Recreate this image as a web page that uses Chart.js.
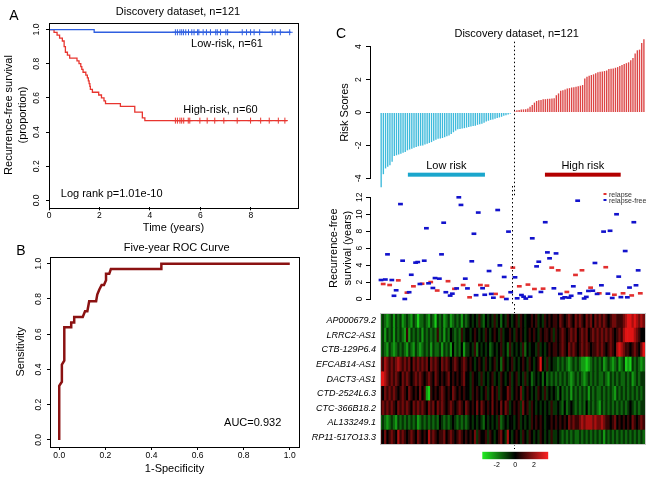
<!DOCTYPE html>
<html lang="en">
<head>
<meta charset="UTF-8">
<title>Risk signature figure</title>
<script src="https://cdn.jsdelivr.net/npm/chart.js"></script>
<style>
  body { margin: 0; background: #fff; }
  #fig { position: relative; width: 648px; height: 480px; overflow: hidden; font-family: 'Liberation Sans', Arial, sans-serif; }
  #fig canvas { position: absolute; }
  .lbl { position: absolute; transform: translate(-50%, -50%); white-space: nowrap; line-height: 1; font-size: 11px; color: #000; }
</style>
</head>
<body>
<div id="fig">
  <canvas id="km" width="320" height="240" style="left:0;top:0"></canvas>
  <canvas id="roc" width="320" height="240" style="left:0;top:240px"></canvas>
  <canvas id="risk" width="328" height="160" style="left:320px;top:36px"></canvas>
  <canvas id="surv" width="328" height="120" style="left:320px;top:186px"></canvas>
  <canvas id="heat" width="348" height="150" style="left:300px;top:304px"></canvas>
  <canvas id="key" width="110" height="26" style="left:460px;top:446px"></canvas>
</div>
<script>
// ---- A: Kaplan-Meier, discovery set ----
const kmLowTime = [0, 1.79, 9.58];
const kmLowSurv = [1, 0.984, 0.984];
const kmHighTime = [0, 0.2, 0.32, 0.42, 0.53, 0.6, 0.65, 0.73, 0.82, 1.11, 1.19, 1.26, 1.3, 1.35, 1.46,
  1.52, 1.56, 1.59, 1.62, 1.64, 1.72, 1.97, 2.08, 2.18, 2.24, 2.83, 3.4, 3.7, 3.8, 9.44];
const kmHighSurv = [1, 0.983, 0.967, 0.95, 0.933, 0.9, 0.867, 0.85, 0.833, 0.817, 0.8, 0.783, 0.767, 0.75, 0.733,
  0.717, 0.7, 0.683, 0.667, 0.65, 0.633, 0.617, 0.6, 0.583, 0.567, 0.55, 0.517, 0.483, 0.467, 0.467];
const censorLow = [5.01, 5.09, 5.19, 5.26, 5.33, 5.42, 5.53, 5.66, 5.75, 5.89, 5.94, 6.11, 6.24, 6.4,
  6.61, 6.67, 6.8, 7.01, 7.08, 7.66, 7.83, 7.99, 8.13, 8.35, 8.85, 8.96, 9.17, 9.54];
const censorHigh = [5.01, 5.09, 5.19, 5.26, 5.34, 5.52, 5.58, 5.98, 6.27, 6.57, 6.93, 7.46, 7.99, 8.39, 8.73, 9.09, 9.35];

// ---- B: five-year ROC ----
const rocFpr = [0, 0, 0.0115, 0.0115, 0.022, 0.022, 0.052, 0.052, 0.065, 0.065, 0.102, 0.112, 0.122, 0.13,
  0.16, 0.165, 0.174, 0.184, 0.194, 0.203, 0.203, 0.217, 0.224, 0.443, 0.443, 1.0];
const rocTpr = [0, 0.307, 0.33, 0.427, 0.45, 0.64, 0.64, 0.667, 0.667, 0.698, 0.698, 0.73, 0.73, 0.787,
  0.787, 0.825, 0.854, 0.88, 0.88, 0.907, 0.943, 0.943, 0.97, 0.97, 1.0, 1.0];

// ---- C: patients ranked by risk score ----
const riskScores = [
  -4.55, -3.75, -3.4, -3.3, -3.2, -3.0, -2.65, -2.6, -2.55, -2.5,
  -2.45, -2.4, -2.3, -2.25, -2.2, -2.15, -2.1, -2.05, -2.02, -2.0,
  -1.95, -1.9, -1.85, -1.8, -1.72, -1.65, -1.6, -1.58, -1.55, -1.5,
  -1.45, -1.4, -1.3, -1.2, -1.1, -1.02, -1.0, -0.97, -0.95, -0.92,
  -0.88, -0.85, -0.82, -0.8, -0.75, -0.72, -0.68, -0.62, -0.55, -0.5,
  -0.45, -0.42, -0.38, -0.34, -0.3, -0.26, -0.2, -0.16, -0.12, -0.07,
  -0.03,
  0.08, 0.14, 0.15, 0.18, 0.19, 0.2, 0.25, 0.35, 0.45, 0.6,
  0.7, 0.75, 0.76, 0.8, 0.81, 0.83, 0.83, 0.85, 0.86, 1.05,
  1.16, 1.32, 1.36, 1.4, 1.46, 1.48, 1.52, 1.54, 1.56, 1.6,
  1.63, 1.67, 2.07, 2.17, 2.24, 2.28, 2.32, 2.38, 2.44, 2.48,
  2.5, 2.52, 2.55, 2.64, 2.66, 2.68, 2.72, 2.76, 2.83, 2.89,
  2.95, 3.0, 3.05, 3.17, 3.31, 3.58, 3.78, 3.82, 4.23, 4.45];
const survYears = [
  2.24, 1.77, 2.3, 5.27, 1.65, 2.24, 0.38, 1.03, 2.2, 11.2,
  4.52, 0.0, 0.75, 0.8, 2.86, 1.5, 4.29, 4.36, 1.77, 1.8,
  4.52, 8.35, 1.85, 2.0, 1.3, 2.47, 1.0, 2.4, 5.27, 9.0,
  0.8, 2.1, 0.4, 0.63, 1.2, 1.25, 12.0, 11.1, 1.65, 2.4,
  1.25, 0.2, 4.45, 7.7, 0.45, 10.2, 1.65, 1.27, 0.5, 1.58,
  3.3, 0.6, 0.15, 0.6, 10.5, 3.97, 0.25, 2.6, 0.0, 7.95,
  0.8,
  3.7, 2.56, 0.08, 1.5, 0.47, 0.27, 0.05, 1.7, 0.27, 7.16,
  1.18, 3.85, 4.4, 0.83, 1.22, 9.06, 5.5, 4.8, 3.7, 1.26,
  5.38, 3.39, 0.6, 0.08, 0.2, 0.83, 0.16, 0.38, 1.5, 2.84,
  11.6, 0.67, 3.39, 0.06, 0.25, 0.95, 1.34, 0.98, 4.25, 0.6,
  0.67, 1.62, 7.95, 3.75, 0.63, 8.05, 0.12, 0.5, 10.0, 2.64,
  0.22, 0.67, 5.66, 0.2, 1.35, 0.42, 9.06, 1.62, 3.38, 0.67];
const relapsed = [
  0, 1, 0, 0, 1, 0, 0, 0, 1, 0,
  0, 0, 1, 0, 0, 1, 0, 0, 0, 1,
  0, 0, 0, 1, 0, 0, 1, 0, 0, 0,
  0, 1, 0, 0, 1, 0, 0, 0, 1, 0,
  0, 1, 0, 0, 0, 0, 1, 0, 0, 1,
  0, 0, 0, 1, 0, 0, 1, 0, 0, 0,
  0,
  1, 0, 0, 1, 0, 0, 0, 1, 0, 0,
  1, 0, 0, 0, 1, 0, 0, 0, 1, 0,
  0, 1, 0, 0, 0, 1, 0, 0, 0, 1,
  0, 0, 1, 0, 0, 0, 1, 0, 0, 0,
  1, 0, 0, 1, 0, 0, 0, 1, 0, 0,
  0, 1, 0, 0, 0, 1, 0, 0, 0, 1];
const genes = ['AP000679.2', 'LRRC2-AS1', 'CTB-129P6.4', 'EFCAB14-AS1', 'DACT3-AS1',
  'CTD-2524L6.3', 'CTC-366B18.2', 'AL133249.1', 'RP11-517O13.3'];
// expression per patient, digits 1..9 (5 = 0, 1 = strong green, 9 = strong red)
const heatRows = [
  '3432342434 2343243133 4324314342 3423434243 4545464354 5464535465 4564654556 5645465656 6576567657 6765767576 7676567766 6789989878 7',
  '3424342434 3262434342 4343436342 4354343645 5456545465 4565464556 5465654565 6546566564 6567656767 5676756767 6767676567 6899998765 5',
  '3432432343 4324324323 4342433424 3425343524 4546354545 3454564536 4545463545 5464545656 6567657676 5676765667 6765676589 8766567657 9',
  '7687676787 6767576767 6757676576 7656765676 5654565465 4564536545 6454565465 4569546454 4343432343 4322123434 3423432342 3412143432 3',
  '9987676765 7676567676 5676576565 6756565675 5465546454 5645465456 4564546453 4545353434 3434343234 3432343434 3343243434 3343423434 4',
  '6576767656 7657656575 6216565676 5657656565 5465654564 5756465576 4565745654 5465464545 4353434243 4343424343 3434343243 4343434343 4',
  '6767676576 7676576767 6576757676 5676567657 6565757656 5756575764 5656475646 5454545464 4543534543 4343534343 2434343434 3434543434 4',
  '3432343243 4343434234 3434343543 4345434343 4545454354 5454634545 5456454546 5656545565 6565657676 6787888787 7876656756 5656576567 6',
  '6575676586 7656765765 6586765667 5676567656 5657465564 6545675485 4565465465 4546545464 4543434343 3434343434 3424343434 3434343434 3'];
const keyTicks = [-2, 0, 2];

Chart.defaults.font.family = "'Liberation Sans', Arial, sans-serif";
Chart.defaults.color = '#000';
Chart.defaults.animation = false;
Chart.defaults.plugins.legend.display = false;
Chart.defaults.plugins.tooltip.enabled = false;

const BLUE = '#2f5fe0', RED = '#e8352f';
const xy = (xs, ys) => xs.map((x, i) => ({ x: x, y: ys[i] }));
const tickFont = { size: 8.5 };

// box round the plotting region (R bty="o")
const frame = {
  id: 'frame',
  afterDraw(chart, args, opts) {
    const a = chart.chartArea, ctx = chart.ctx;
    ctx.save();
    ctx.strokeStyle = opts.color || '#000';
    ctx.lineWidth = 1;
    ctx.strokeRect(Math.round(a.left) + 0.5, Math.round(a.top) + 0.5, Math.round(a.right - a.left), Math.round(a.bottom - a.top));
    ctx.restore();
  }
};
// y tick labels turned 90 degrees like R's default axis
const rotTicks = {
  id: 'rotTicks',
  afterDraw(chart, args, opts) {
    const s = chart.scales.y, ctx = chart.ctx;
    ctx.save();
    ctx.font = '8.5px "Liberation Sans", Arial, sans-serif';
    ctx.fillStyle = '#000';
    ctx.textAlign = 'center';
    ctx.textBaseline = 'middle';
    s.ticks.forEach(t => {
      ctx.save();
      ctx.translate(chart.chartArea.left - opts.offset, s.getPixelForValue(t.value));
      ctx.rotate(-Math.PI / 2);
      ctx.fillText(t.value.toFixed(opts.decimals), 0, 0);
      ctx.restore();
    });
    ctx.restore();
  }
};
// dotted split between low and high risk
const divider = {
  id: 'divider',
  draw(chart, opts) {
    const ctx = chart.ctx, x = Math.round(chart.scales.x.getPixelForValue(opts.at)) + 0.5;
    ctx.save();
    ctx.strokeStyle = '#000';
    ctx.lineWidth = 1;
    ctx.setLineDash([1.5, 2.5]);
    ctx.beginPath();
    ctx.moveTo(x, opts.y0);
    ctx.lineTo(x, opts.y1);
    ctx.stroke();
    ctx.restore();
  },
  beforeDatasetsDraw(chart, args, opts) { if (opts.under) this.draw(chart, opts); },
  afterDatasetsDraw(chart, args, opts) { if (!opts.under) this.draw(chart, opts); }
};
// "Low risk" / "High risk" captions with their bars
const riskGroups = {
  id: 'riskGroups',
  afterDatasetsDraw(chart, args, opts) {
    const ctx = chart.ctx, x = chart.scales.x, y = chart.scales.y;
    ctx.save();
    opts.groups.forEach(g => {
      const x0 = x.getPixelForValue(g.from), x1 = x.getPixelForValue(g.to);
      ctx.fillStyle = g.color;
      ctx.fillRect(x0, y.getPixelForValue(opts.barAt) - 2, x1 - x0, 4);
      ctx.fillStyle = '#000';
      ctx.font = '11px "Liberation Sans", Arial, sans-serif';
      ctx.textAlign = 'center';
      ctx.textBaseline = 'middle';
      ctx.fillText(g.text, (x0 + x1) / 2, y.getPixelForValue(opts.textAt));
    });
    ctx.restore();
  }
};

const rGrid = { drawOnChartArea: false, tickLength: 3, color: '#000' };
const patientAxis = (min, max) => ({ type: 'linear', min: min, max: max, offset: false, grid: { offset: false }, display: false });

// A
new Chart(document.getElementById('km'), {
  type: 'line',
  data: {
    datasets: [
      { data: xy(kmLowTime, kmLowSurv), borderColor: BLUE, borderWidth: 1.3, stepped: true, pointRadius: 0 },
      { data: xy(kmHighTime, kmHighSurv), borderColor: RED, borderWidth: 1.3, stepped: true, pointRadius: 0 },
      { type: 'scatter', data: censorLow.map(t => ({ x: t, y: kmLowSurv[kmLowSurv.length - 1] })),
        pointStyle: 'cross', pointRadius: 3, borderColor: BLUE, borderWidth: 1 },
      { type: 'scatter', data: censorHigh.map(t => ({ x: t, y: kmHighSurv[kmHighSurv.length - 1] })),
        pointStyle: 'cross', pointRadius: 3, borderColor: RED, borderWidth: 1 }
    ]
  },
  options: {
    responsive: false,
    layout: { padding: { left: 2, right: 22, top: 22.7, bottom: 5.7 } },
    scales: {
      x: {
        type: 'linear', min: 0, max: 9.87,
        border: { display: false }, grid: rGrid,
        ticks: { stepSize: 2, includeBounds: false, font: tickFont, padding: 0 },
        title: { display: true, text: 'Time (years)', font: { size: 11 }, padding: 0 },
        afterFit: s => { s.height = 27; }
      },
      y: {
        min: -0.04, max: 1.04,
        border: { display: false }, grid: rGrid,
        ticks: { stepSize: 0.2, includeBounds: false, display: false },
        title: { display: true, text: ['Recurrence-free survival', '(proportion)'], font: { size: 11, lineHeight: 1.3 }, padding: 0 },
        afterFit: s => { s.width = 47; }
      }
    },
    plugins: { rotTicks: { offset: 12.3, decimals: 1 } }
  },
  plugins: [frame, rotTicks]
});

// B
new Chart(document.getElementById('roc'), {
  type: 'line',
  data: {
    datasets: [{ data: xy(rocFpr, rocTpr), borderColor: '#8b1212', borderWidth: 2.5, pointRadius: 0 }]
  },
  options: {
    responsive: false,
    layout: { padding: { left: 14.4, right: 21, top: 16.7, bottom: 4.4 } },
    scales: {
      x: {
        type: 'linear', min: -0.04, max: 1.04,
        border: { display: false }, grid: rGrid,
        ticks: { stepSize: 0.2, includeBounds: false, font: tickFont, padding: 1, callback: v => v.toFixed(1) },
        title: { display: true, text: '1-Specificity', font: { size: 11 }, padding: 0 },
        afterFit: s => { s.height = 28.6; }
      },
      y: {
        min: -0.04, max: 1.04,
        border: { display: false }, grid: rGrid,
        ticks: { stepSize: 0.2, includeBounds: false, display: false },
        title: { display: true, text: 'Sensitivity', font: { size: 11 }, padding: 0 },
        afterFit: s => { s.width = 35.6; }
      }
    },
    plugins: { rotTicks: { offset: 11.7, decimals: 1 } }
  },
  plugins: [frame, rotTicks]
});

// C, risk score bars
new Chart(document.getElementById('risk'), {
  type: 'bar',
  data: {
    datasets: [{
      data: riskScores.map((v, i) => ({ x: i, y: v })),
      backgroundColor: riskScores.map(v => v < 0 ? '#3dbadb' : '#dc4444'),
      barPercentage: 0.62, categoryPercentage: 1, clip: false
    }]
  },
  options: {
    responsive: false,
    layout: { padding: { left: 18.4, right: 3, top: 10.7, bottom: 17.7 } },
    scales: {
      x: patientAxis(-5.1, 120.5),
      y: {
        min: -4, max: 4,
        border: { display: true, color: '#000' },
        grid: { drawOnChartArea: false, tickLength: 4, color: '#000' },
        ticks: { stepSize: 2, includeBounds: false, display: false },
        title: { display: true, text: 'Risk Scores', font: { size: 11 }, padding: 0 },
        afterFit: s => { s.width = 31.6; }
      }
    },
    plugins: {
      rotTicks: { offset: 11.7, decimals: 0 },
      divider: { at: 60.5, y0: 5.7, y1: 160 },
      riskGroups: {
        barAt: -3.78, textAt: -3.26,
        groups: [
          { text: 'Low risk', from: 12.2, to: 47.4, color: '#1aa6cc' },
          { text: 'High risk', from: 74.8, to: 109.4, color: '#b30000' }
        ]
      }
    }
  },
  plugins: [rotTicks, divider, riskGroups]
});

// C, follow-up time and status
const survPts = survYears.map((v, i) => ({ x: i, y: v }));
new Chart(document.getElementById('surv'), {
  type: 'scatter',
  data: {
    datasets: [
      { label: 'relapse-free', data: survPts.filter((p, i) => !relapsed[i]), pointStyle: 'line',
        pointRadius: 2.4, borderWidth: 2.6, borderColor: '#1212cc', clip: false },
      { label: 'relapse', data: survPts.filter((p, i) => relapsed[i]), pointStyle: 'line',
        pointRadius: 2.4, borderWidth: 2.6, borderColor: '#e23030', clip: false }
    ]
  },
  options: {
    responsive: false,
    layout: { padding: { left: 6.85, right: 3, top: 11.3, bottom: 7 } },
    scales: {
      x: patientAxis(-5.1, 120.5),
      y: {
        min: 0, max: 12,
        border: { display: true, color: '#000' },
        grid: { drawOnChartArea: false, tickLength: 4, color: '#000' },
        ticks: { stepSize: 2, includeBounds: false, display: false },
        title: { display: true, text: ['Recurrence-free', 'survival (years)'], font: { size: 11, lineHeight: 1.3 }, padding: 0 },
        afterFit: s => { s.width = 43.15; }
      }
    },
    plugins: {
      rotTicks: { offset: 10.5, decimals: 0 },
      divider: { at: 60.5, y0: 0, y1: 120 }
    }
  },
  plugins: [rotTicks, divider]
});

// C, heatmap of the nine lncRNAs
function heatColor(d) {
  const t = Math.abs(d - 5) / 4;
  return d >= 5 ? `rgb(${Math.round(225 * t)},${Math.round(20 * t)},${Math.round(20 * t)})`
                : `rgb(${Math.round(25 * t)},${Math.round(205 * t)},${Math.round(25 * t)})`;
}
const heatSets = genes.map((g, k) => {
  const codes = heatRows[k].replace(/ /g, '').split('').map(Number);
  return { label: g, data: codes.map((c, i) => ({ x: i, y: 1 })), backgroundColor: codes.map(heatColor),
    barPercentage: 1, categoryPercentage: 1 };
}).reverse();
const heatX = patientAxis(-0.5, 120.5);
heatX.stacked = true;
new Chart(document.getElementById('heat'), {
  type: 'bar',
  data: { datasets: heatSets },
  options: {
    responsive: false,
    layout: { padding: { left: 0, right: 3, top: 7.7, bottom: 7.3 } },
    scales: {
      x: heatX,
      y: {
        min: 0, max: genes.length, stacked: true,
        grid: { display: false, drawTicks: false }, border: { display: false },
        afterBuildTicks: s => { s.ticks = genes.map((g, k) => ({ value: k + 0.5 })); },
        ticks: { autoSkip: false, padding: 4, font: { size: 9, style: 'italic' },
          callback: v => genes[genes.length - 1 - Math.floor(v)] },
        afterFit: s => { s.width = 80.07; }
      }
    },
    plugins: {
      frame: { color: '#c8c8c8' },
      divider: { at: 60.5, y0: 0, y1: 145, under: true }
    }
  },
  plugins: [divider, frame]
});

// colour key
const keyMin = -3.55, keyMax = 3.55;
new Chart(document.getElementById('key'), {
  type: 'bar',
  data: {
    labels: [''],
    datasets: [{
      data: [[keyMin, keyMax]], barPercentage: 1, categoryPercentage: 1,
      backgroundColor: c => {
        const a = c.chart.chartArea;
        if (!a) return '#000';
        const g = c.chart.ctx.createLinearGradient(a.left, 0, a.right, 0);
        g.addColorStop(0, '#22ee22');
        g.addColorStop(0.5, '#000000');
        g.addColorStop(1, '#ff2222');
        return g;
      }
    }]
  },
  options: {
    indexAxis: 'y',
    responsive: false,
    layout: { padding: { left: 22.3, right: 21.7, top: 5.7, bottom: 0 } },
    scales: {
      y: { display: false },
      x: {
        type: 'linear', min: keyMin, max: keyMax,
        grid: { display: false, drawTicks: false }, border: { display: false },
        afterBuildTicks: s => { s.ticks = keyTicks.map(v => ({ value: v })); },
        ticks: { font: { size: 7 }, padding: 2 },
        afterFit: s => { s.height = 12.7; }
      }
    }
  }
});

// titles and annotations
const fig = document.getElementById('fig');
function place(text, x, y, style) {
  const d = document.createElement('div');
  d.className = 'lbl';
  d.textContent = text;
  d.style.left = x + 'px';
  d.style.top = y + 'px';
  Object.assign(d.style, style || {});
  fig.appendChild(d);
}
const big = { fontSize: '14px' };
place('A', 14, 15, big);
place('Discovery dataset, n=121', 178, 11);
place('Low-risk, n=61', 227, 42.7);
place('High-risk, n=60', 220.5, 109.3);
place('Log rank p=1.01e-10', 111.7, 192.7);
place('B', 21, 250, big);
place('Five-year ROC Curve', 176.7, 246.7);
place('AUC=0.932', 252.7, 421.7);
place('C', 341, 33, big);
place('Discovery dataset, n=121', 516.7, 33);
const legendText = { transform: 'translate(0,-50%)', fontSize: '7px', color: '#333' };
place('relapse', 609, 193.5, legendText);
place('relapse-free', 609, 199.5, legendText);
place('', 604.5, 193.5, { width: '3px', height: '2px', background: '#e23030' });
place('', 604.5, 199.5, { width: '3px', height: '2px', background: '#1212cc' });
</script>
</body>
</html>
